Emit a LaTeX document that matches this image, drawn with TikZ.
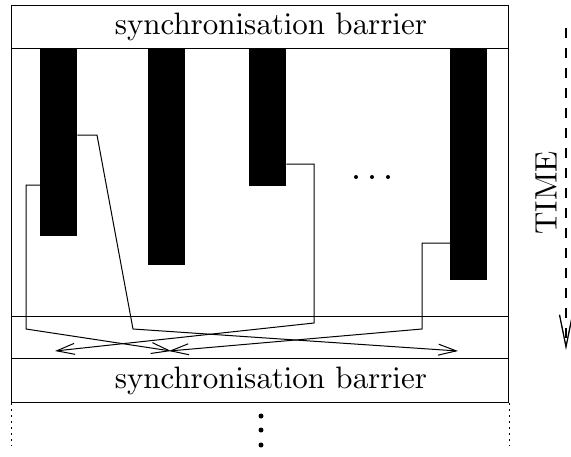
\documentclass[tikz,border=0pt]{standalone}
\usetikzlibrary{arrows.meta,calc}
\font\bigrm=cmr10 at 31pt
\begin{document}
\begin{tikzpicture}[x=1pt,y=-1pt,
  frame/.style={draw,line width=1.1pt,inner sep=0pt,anchor=north west,minimum width=497pt},
  bar/.style={fill=black,draw=none,inner sep=0pt,minimum width=37pt,anchor=north west},
  conn/.style={line width=1pt},
  tip/.style={-{Straight Barb[length=18pt,width=11pt,line width=1pt]}},
  lbl/.style={font=\bigrm,inner sep=0pt},
  dot/.style={circle,fill=black,inner sep=0pt,minimum size=#1}
]
\useasboundingbox (0,0) rectangle (571,456);

% frame boxes
\node[frame,minimum height=268pt] (work) at (11,48) {};
\node[frame,minimum height=42pt] (band) at (11,316) {};
\node[frame,minimum height=43pt] (topbar) at (11,5) {};
\node[frame,minimum height=44pt] (botbar) at (11,358) {};
\node[lbl] (toplbl) at ($(topbar.center)+(11,0)$) {synchronisation barrier};
\node[lbl] (botlbl) at ($(botbar.center)+(11,0)$) {synchronisation barrier};

% process bars
\node[bar,minimum height=188pt] (b1) at (40,48) {};
\node[bar,minimum height=217pt] (b2) at (148,48) {};
\node[bar,minimum height=138pt] (b3) at (249,48) {};
\node[bar,minimum height=232pt] (b4) at (450,48) {};

% dots between bars
\node[dot=4pt] (d1) at (356,177) {};
\node[dot=4pt] (d2) at (372,177) {};
\node[dot=4pt] (d3) at (388,177) {};

% connector bends and ends
\coordinate (c1) at (26,329);
\coordinate (e1) at (171,351);
\coordinate (c2a) at (97,135);
\coordinate (c2b) at (133,329);
\coordinate (e2) at (458,351);
\coordinate (c3) at (314,323);
\coordinate (e3) at (55,351);
\coordinate (c4) at (422,329);
\coordinate (e4) at (169,351);

\draw[conn,tip] ($(b1.north west)+(0,137)$) -| (c1) -- (e1);
\draw[conn,tip] ($(b1.north east)+(0,87)$) -- (c2a) -- (c2b) -- (e2);
\draw[conn,tip] ($(b3.north east)+(0,116)$) -| (c3) -- (e3);
\draw[conn,tip] ($(b4.north west)+(0,195)$) -| (c4) -- (e4);

% continuation below
\coordinate (l1) at ($(botbar.south west)+(0,43)$);
\coordinate (r1) at ($(botbar.south east)+(0,43)$);
\draw[line width=1pt,dash pattern=on 2pt off 4pt] (botbar.south west) -- (l1);
\draw[line width=1pt,dash pattern=on 2pt off 4pt] (botbar.south east) -- (r1);
\node[dot=5pt] (v1) at (261,416) {};
\node[dot=5pt] (v2) at (261,430) {};
\node[dot=5pt] (v3) at (261,445) {};

% time axis
\coordinate (t0) at (566,28);
\coordinate (t1) at (566,350);
\draw[line width=1.3pt,dash pattern=on 10pt off 10pt,-{Straight Barb[length=32pt,width=13pt,line width=1.3pt]}] (t0) -- (t1);
\node[lbl,rotate=90] (time) at (546,193) {TIME};
\end{tikzpicture}
\end{document}
